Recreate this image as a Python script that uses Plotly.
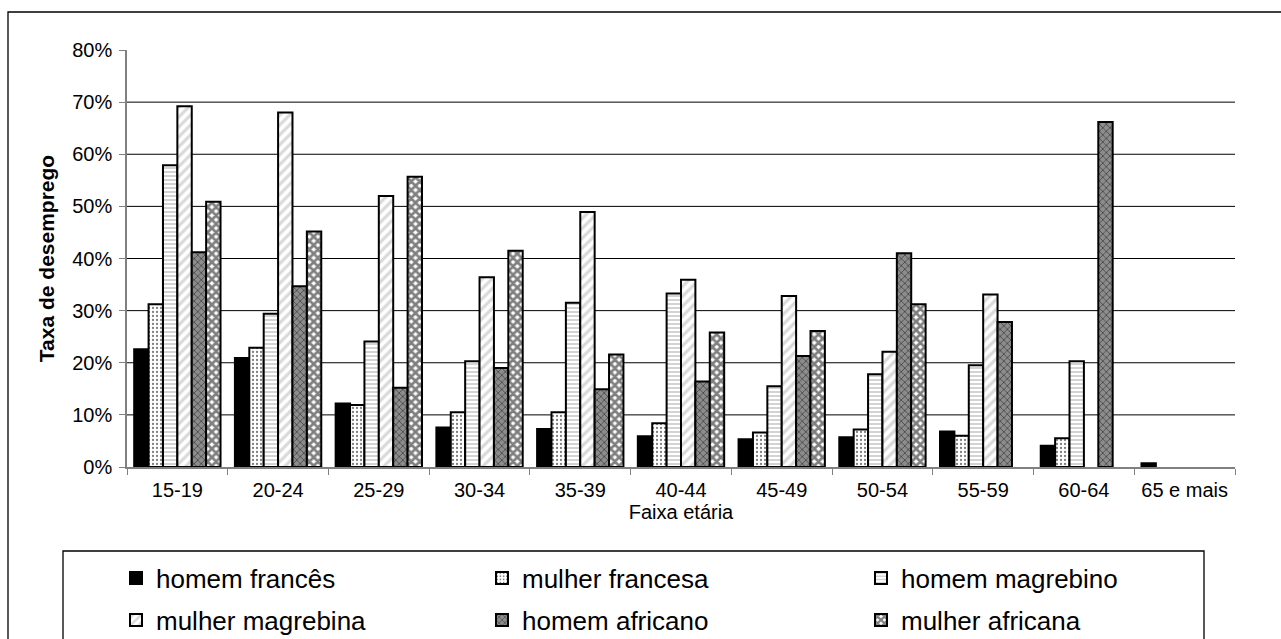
import plotly.graph_objects as go

categorias = ["15-19", "20-24", "25-29", "30-34", "35-39", "40-44", "45-49",
              "50-54", "55-59", "60-64", "65 e mais"]
homem_frances = [22.6, 20.9, 12.2, 7.6, 7.3, 5.9, 5.3, 5.7, 6.8, 4.1, 0.7]
mulher_francesa = [31.2, 22.9, 11.9, 10.5, 10.5, 8.4, 6.6, 7.2, 6.0, 5.5, None]
homem_magrebino = [57.9, 29.4, 24.1, 20.3, 31.5, 33.3, 15.5, 17.8, 19.5, 20.3, None]
mulher_magrebina = [69.2, 68.0, 52.0, 36.4, 48.9, 35.9, 32.8, 22.1, 33.1, None, None]
homem_africano = [41.2, 34.7, 15.2, 19.0, 14.9, 16.4, 21.3, 41.0, 27.8, 66.2, None]
mulher_africana = [50.9, 45.2, 55.7, 41.5, 21.6, 25.8, 26.1, 31.2, None, None, None]

nomes = ["homem francês", "mulher francesa", "homem magrebino",
         "mulher magrebina", "homem africano", "mulher africana"]
series = [homem_frances, mulher_francesa, homem_magrebino,
          mulher_magrebina, homem_africano, mulher_africana]

ticks_y = [0, 0.1, 0.2, 0.3, 0.4, 0.5, 0.6, 0.7, 0.8]
grid_y = [0.1, 0.2, 0.3, 0.4, 0.5, 0.6, 0.7]

patterns = [
    dict(shape="", bgcolor="black", fgcolor="black"),
    dict(shape=".", bgcolor="white", fgcolor="black", size=4, solidity=0.25),
    dict(shape="-", bgcolor="white", fgcolor="#a8a8a8", size=4, solidity=0.5),
    dict(shape="/", bgcolor="white", fgcolor="#b4b4b4", size=7, solidity=0.45),
    dict(shape="x", bgcolor="#8c8c8c", fgcolor="black", size=5, solidity=0.3),
    dict(shape="x", bgcolor="white", fgcolor="black", size=6, solidity=0.7),
]
colors = ["black", "white", "white", "white", "#8c8c8c", "white"]

FONT = "Liberation Sans, Arial, sans-serif"

# legend slot for each series (column x-start, row centre y), in pixels
legend_cols = [116, 482, 861]
legend_rows = [578, 620]

W, H = 1281, 639
L, R, T, B = 127, 1235, 50, 467


def px(x):
    return (x - L) / (R - L)


def py(y):
    return (B - y) / (B - T)


fig = go.Figure()
legend_defs = {}
for i, (nome, vals) in enumerate(zip(nomes, series)):
    lid = "legend" if i == 0 else f"legend{i + 1}"
    fig.add_trace(go.Bar(
        x=categorias,
        y=[v / 100 if v is not None else None for v in vals],
        name=nome,
        marker=dict(color=colors[i], pattern=patterns[i],
                    line=dict(color="black", width=2)),
        legend=lid,
    ))
    legend_defs[lid] = dict(
        orientation="h", xanchor="left", yanchor="middle",
        xref="container", yref="container",
        x=legend_cols[i % 3] / W, y=1 - legend_rows[i // 3] / H,
        font=dict(family=FONT, size=26, color="black"),
        bgcolor="rgba(0,0,0,0)", borderwidth=0,
        itemclick=False, itemdoubleclick=False,
    )

shapes = []
for g in grid_y:
    shapes.append(dict(type="line", xref="paper", yref="y", x0=0, x1=1, y0=g, y1=g,
                       line=dict(color="black", width=1), layer="below"))
# outer chart border
shapes.append(dict(type="rect", xref="paper", yref="paper",
                   x0=px(8), x1=px(1300), y0=py(12), y1=py(660),
                   line=dict(color="black", width=1.3)))
# legend box
shapes.append(dict(type="rect", xref="paper", yref="paper",
                   x0=px(63), x1=px(1204), y0=py(551), y1=py(660),
                   line=dict(color="black", width=1.3)))

fig.update_layout(
    width=W, height=H,
    margin=dict(l=L, r=W - R, t=T, b=H - B, pad=0),
    paper_bgcolor="white", plot_bgcolor="white",
    barmode="group", bargap=1 / 7, bargroupgap=0,
    font=dict(family=FONT, color="black", size=20),
    showlegend=True,
    shapes=shapes,
    xaxis=dict(
        type="category", showline=True, linecolor="#808080", linewidth=1.5,
        ticks="outside", tickson="boundaries", ticklen=6, tickcolor="#808080",
        tickfont=dict(size=20), showgrid=False, automargin=False,
        ticklabelstandoff=4,
        title=dict(text="Faixa etária", font=dict(size=20), standoff=4),
    ),
    yaxis=dict(
        range=[0, 0.8], tickvals=ticks_y, tickformat=".0%",
        showline=True, linecolor="#808080", linewidth=1.5,
        ticks="outside", ticklen=6, tickcolor="#808080",
        tickfont=dict(size=20), showgrid=False, zeroline=False, automargin=False,
        ticklabelstandoff=3,
        title=dict(text="<b>Taxa de desemprego</b>", font=dict(size=21), standoff=12),
    ),
    **legend_defs,
)

fig.write_html("out.html")
